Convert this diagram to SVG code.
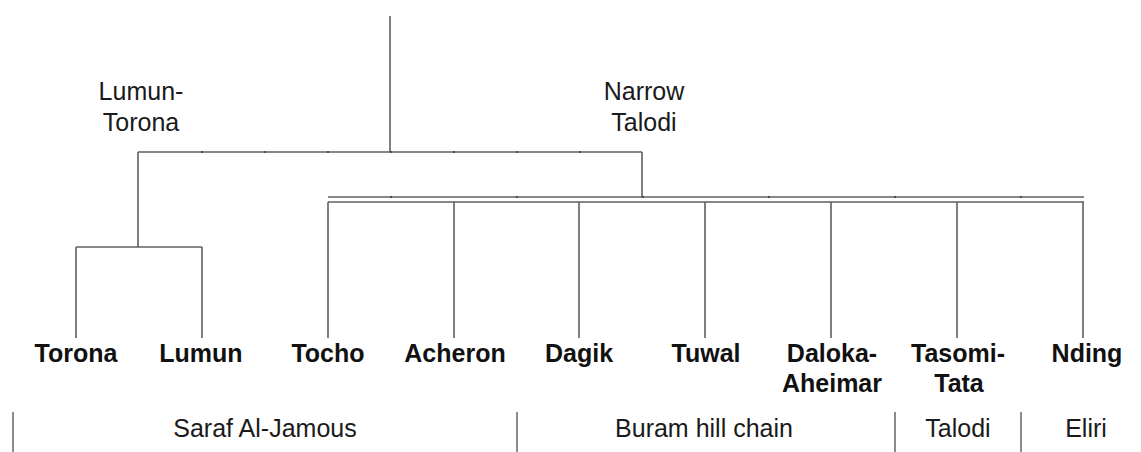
<svg xmlns="http://www.w3.org/2000/svg" width="1141" height="452" viewBox="0 0 1141 452">
<style>
.ln{stroke:#606060;stroke-width:1.6;fill:none}
.tk{stroke:#404040;stroke-width:1.6;fill:none}
.sep{stroke:#707070;stroke-width:1.6;fill:none}
.lab{font-family:"Liberation Sans",Arial,sans-serif;font-size:25px;fill:#1a1a1a;text-anchor:middle}
.leaf{font-family:"Liberation Sans",Arial,sans-serif;font-size:25px;font-weight:bold;fill:#111;text-anchor:middle}
</style>
<rect width="1141" height="452" fill="#fff"/>
<g id="connectors">
<path class="ln" d="M390,16V152M138,152H642M138,152V247M76,247H202M76,247V338M202,247V338M642,152V197M328,197H1084M328,202H1084M328,202V338M454,202V338M579,202V338M705,202V338M831,202V338M957,202V338M1083,202V338"/>
<path class="tk" d="M202,151v2M265,151v2M328,151v2M391,151v2M454,151v2M517,151v2M580,151v2M391,196v2M517,196v2M643,196v2M769,196v2M895,196v2M1021,196v2"/>
</g>
<g id="clade-lumun-torona"><text class="lab" x="141" y="100">Lumun-</text><text class="lab" x="141" y="131">Torona</text></g>
<g id="clade-narrow-talodi"><text class="lab" x="644" y="100">Narrow</text><text class="lab" x="644" y="131">Talodi</text></g>
<g id="leaf-torona"><text class="leaf" x="76" y="362">Torona</text></g>
<g id="leaf-lumun"><text class="leaf" x="201" y="362">Lumun</text></g>
<g id="leaf-tocho"><text class="leaf" x="328" y="362">Tocho</text></g>
<g id="leaf-acheron"><text class="leaf" x="455" y="362">Acheron</text></g>
<g id="leaf-dagik"><text class="leaf" x="579" y="362">Dagik</text></g>
<g id="leaf-tuwal"><text class="leaf" x="706" y="362">Tuwal</text></g>
<g id="leaf-daloka"><text class="leaf" x="832" y="362">Daloka-</text><text class="leaf" x="832" y="392">Aheimar</text></g>
<g id="leaf-tasomi"><text class="leaf" x="958" y="362">Tasomi-</text><text class="leaf" x="959" y="392">Tata</text></g>
<g id="leaf-nding"><text class="leaf" x="1087" y="362">Nding</text></g>
<g id="regions">
<path class="sep" d="M13,412V452M517,412V452M895,412V452M1021,412V452"/>
<text class="lab" x="265" y="437">Saraf Al-Jamous</text>
<text class="lab" x="704" y="437">Buram hill chain</text>
<text class="lab" x="958" y="437">Talodi</text>
<text class="lab" x="1086" y="437">Eliri</text>
</g>
</svg>
